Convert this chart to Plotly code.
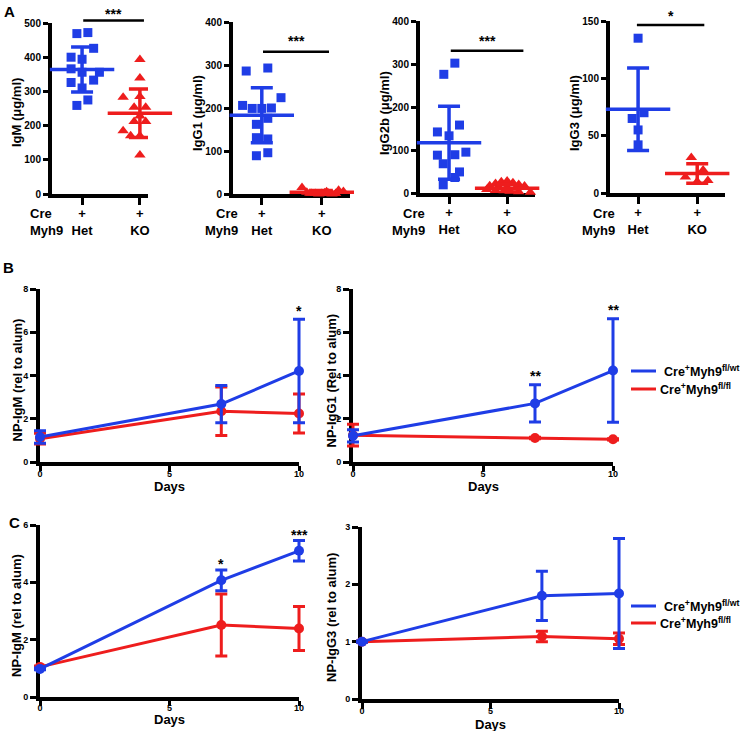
import plotly.graph_objects as go

W, H = 742, 731
BLUE = "#1f3de6"
RED = "#ee1d1d"
FONT = "Liberation Sans, Arial, Helvetica, sans-serif"

# ---------------- Panel A data (µg/ml) ----------------
groups = ["Het", "KO"]
cre_row = ["+", "+"]

igm_het = [469, 472, 426, 400, 394, 366, 356, 356, 326, 333, 310, 259, 275]
igm_het_dx = [-0.09, 0.1, 0.2, -0.19, 0, -0.19, 0, 0.3, -0.19, 0.2, 0, -0.09, 0.1]
igm_ko = [393, 339, 283, 285, 270, 254, 254, 228, 185, 212, 212, 185, 170, 170, 114]
igm_ko_dx = [0, 0, -0.29, 0, 0.29, -0.1, 0.1, 0, -0.29, -0.1, 0.1, 0.32, -0.16, 0, 0]
igm_mean = [364, 236]
igm_sd = [66, 71]

igg1_het = [286, 293, 224, 206, 199, 199, 200, 176, 162, 131, 128, 89, 96]
igg1_het_dx = [-0.26, 0.1, 0.32, -0.32, -0.16, 0, 0.16, 0.1, -0.09, -0.09, 0.1, -0.09, 0.1]
igg1_ko = [15, 4, 2, 1, 0, 1, 3, 2, 0, 1, 2, 5, 9, 6]
igg1_ko_dx = [-0.33, -0.25, -0.18, -0.11, -0.05, 0.0, 0.05, 0.11, 0.17, 0.23, -0.2, 0.08, 0.28, 0.36]
igg1_mean = [183, 4]
igg1_sd = [64, 4]

igg2b_het = [276, 302, 142, 158, 133, 88, 89, 95, 68, 49, 36, 19]
igg2b_het_dx = [-0.09, 0.1, -0.2, 0.18, 0, -0.2, 0.1, 0.29, -0.1, 0.18, 0.1, -0.1]
igg2b_ko = [22, 26, 28, 24, 20, 17, 15, 13, 11, 16, 8, 6, 5, 4, 3, 2]
igg2b_ko_dx = [-0.2, -0.1, 0, 0.1, 0.2, -0.3, -0.15, 0, 0.15, 0.3, -0.35, -0.2, -0.05, 0.05, 0.2, 0.4]
igg2b_mean = [117, 11]
igg2b_sd = [85, 9]

igg3_het = [135, 65, 70, 55, 42]
igg3_het_dx = [0, -0.1, 0.1, 0, 0]
igg3_ko = [31, 20, 14, 11, 10]
igg3_ko_dx = [-0.1, 0.1, -0.2, 0.18, 0]
igg3_mean = [73, 17]
igg3_sd = [36, 8.5]

sig_a_text = ["***", "***", "***", "*"]
sig_a_line_y = [507, 331, 331, 146.5]
sig_a_line_x = [(1.02, 2.07), (1.02, 2.12), (1.03, 2.28), (0.98, 2.12)]
sig_a_text_y = [530, 358, 356, 155]

# ---------------- Panels B / C data (rel. to alum) ----------------
days = [0, 7, 10]
b_igm_wt = [1.16, 2.68, 4.21]
b_igm_wt_err = [0.29, 0.86, 2.39]
b_igm_ko = [1.08, 2.35, 2.24]
b_igm_ko_err = [0.25, 1.12, 0.9]
b_igg1_wt = [1.21, 2.71, 4.23]
b_igg1_wt_err = [0.28, 0.86, 2.39]
b_igg1_ko = [1.24, 1.11, 1.05]
b_igg1_ko_err = [0.5, 0.03, 0.03]
c_igm_wt = [0.98, 4.07, 5.10]
c_igm_wt_err = [0.03, 0.36, 0.36]
c_igm_ko = [1.05, 2.51, 2.39]
c_igm_ko_err = [0.03, 1.08, 0.77]
c_igg3_wt = [1.0, 1.8, 1.84]
c_igg3_wt_err = [0.01, 0.43, 0.96]
c_igg3_ko = [1.0, 1.09, 1.05]
c_igg3_ko_err = [0.01, 0.09, 0.1]

legend_names = ["Cre<sup>+</sup>Myh9<sup>fl/wt</sup>", "Cre<sup>+</sup>Myh9<sup>fl/fl</sup>"]

fig = go.Figure()


def fx(p):
    return p / W


def fy(p):
    return 1 - p / H


annotations = []
shapes = []
layout_axes = {}

BOLD = dict(family=FONT, color="black", weight="bold")


def axis_style(**kw):
    d = dict(showline=True, linewidth=4, linecolor="black", ticks="outside",
             tickwidth=3, tickcolor="black", showgrid=False, zeroline=False,
             layer="below traces", fixedrange=True, automargin=False)
    d.update(kw)
    return d


def text_ann(text, x, y, size=13, angle=0, xanchor="center", yanchor="middle", **kw):
    d = dict(text=text, xref="paper", yref="paper", x=x, y=y, textangle=angle,
             xanchor=xanchor, yanchor=yanchor, showarrow=False, font=dict(size=size, **BOLD))
    d.update(kw)
    return d


# ---------------- Panel A ----------------
panelsA = [
    dict(het=igm_het, hdx=igm_het_dx, ko=igm_ko, kdx=igm_ko_dx, mean=igm_mean, sd=igm_sd,
         ymax=500, dtick=100, xpx=(52, 148), ypx=(23, 194), xr=(0.48, 2.14),
         title="IgM (μg/ml)", crex=28, crealign="left"),
    dict(het=igg1_het, hdx=igg1_het_dx, ko=igg1_ko, kdx=igg1_ko_dx, mean=igg1_mean, sd=igg1_sd,
         ymax=400, dtick=100, xpx=(233, 350), ypx=(22, 194), xr=(0.52, 2.47),
         title="IgG1 (μg/ml)", crex=240, crealign="right"),
    dict(het=igg2b_het, hdx=igg2b_het_dx, ko=igg2b_ko, kdx=igg2b_ko_dx, mean=igg2b_mean, sd=igg2b_sd,
         ymax=400, dtick=100, xpx=(420, 535), ypx=(21, 193), xr=(0.5, 2.48),
         title="IgG2b (μg/ml)", crex=427, crealign="right"),
    dict(het=igg3_het, hdx=igg3_het_dx, ko=igg3_ko, kdx=igg3_ko_dx, mean=igg3_mean, sd=igg3_sd,
         ymax=150, dtick=50, xpx=(610, 725), ypx=(21, 193), xr=(0.525, 2.47),
         title="IgG3 (μg/ml)", crex=617, crealign="right"),
]

for i, p in enumerate(panelsA):
    n = i + 1
    xa = "x" if n == 1 else f"x{n}"
    ya = "y" if n == 1 else f"y{n}"
    fig.add_trace(go.Scatter(
        x=[1 + d for d in p["hdx"]], y=p["het"], mode="markers", xaxis=xa, yaxis=ya,
        marker=dict(symbol="square", size=9, color=BLUE, line=dict(width=0)),
        cliponaxis=False, showlegend=False))
    fig.add_trace(go.Scatter(
        x=[2 + d for d in p["kdx"]], y=p["ko"], mode="markers", xaxis=xa, yaxis=ya,
        marker=dict(symbol="triangle-up", size=10, color=RED, line=dict(width=0)),
        cliponaxis=False, showlegend=False))
    for gi, col in enumerate([BLUE, RED]):
        fig.add_trace(go.Scatter(
            x=[gi + 1], y=[p["mean"][gi]], mode="markers", xaxis=xa, yaxis=ya,
            marker=dict(symbol="line-ew", size=46, color=col, line=dict(color=col, width=3.5)),
            error_y=dict(type="data", array=[p["sd"][gi]], color=col, thickness=3.5, width=11),
            cliponaxis=False, showlegend=False))
    layout_axes["xaxis" + ("" if n == 1 else str(n))] = axis_style(
        domain=[fx(p["xpx"][0]), fx(p["xpx"][1])], range=list(p["xr"]), anchor=ya,
        tickvals=[1, 2], ticktext=[f"{c}<br>{g}" for c, g in zip(cre_row, groups)],
        ticklen=7, ticklabelstandoff=-3, tickfont=dict(size=13, **BOLD))
    layout_axes["yaxis" + ("" if n == 1 else str(n))] = axis_style(
        domain=[fy(p["ypx"][1]), fy(p["ypx"][0])], range=[0, p["ymax"]], anchor=xa,
        tickvals=list(range(0, p["ymax"] + 1, p["dtick"])), ticklen=5,
        tickfont=dict(size=10, **BOLD))
    annotations.append(text_ann(p["title"], fx(p["xpx"][0] - 36), fy(113), angle=-90))
    for lab, ypix in (("Cre", 213), ("Myh9", 230)):
        annotations.append(text_ann(lab, fx(p["crex"]), fy(ypix), xanchor=p["crealign"]))
    x0, x1 = sig_a_line_x[i]
    shapes.append(dict(type="line", xref=xa, yref=f"{ya} domain", x0=x0, x1=x1,
                       y0=sig_a_line_y[i] / p["ymax"], y1=sig_a_line_y[i] / p["ymax"],
                       line=dict(color="black", width=2.5)))
    annotations.append(dict(text=sig_a_text[i], xref=xa, yref=f"{ya} domain",
                            x=(x0 + x1) / 2, y=sig_a_text_y[i] / p["ymax"], showarrow=False,
                            xanchor="center", yanchor="middle", yshift=-1,
                            font=dict(size=14, **BOLD)))

# ---------------- Panels B / C ----------------
panelsBC = [
    dict(wt=b_igm_wt, wte=b_igm_wt_err, ko=b_igm_ko, koe=b_igm_ko_err, ymax=8, dtick=2,
         xpx=(40, 299), ypx=(289, 462), title="NP-IgM (rel to alum)", tdx=23, days_y=487,
         xtl=5, xts=-5, stars=[(10, 7.0, "*")]),
    dict(wt=b_igg1_wt, wte=b_igg1_wt_err, ko=b_igg1_ko, koe=b_igg1_ko_err, ymax=8, dtick=2,
         xpx=(353, 613), ypx=(289, 462), title="NP-IgG1 (Rel to alum)", tdx=22, days_y=487,
         xtl=5, xts=-5, stars=[(7, 4.0, "**"), (10, 7.05, "**")]),
    dict(wt=c_igm_wt, wte=c_igm_wt_err, ko=c_igm_ko, koe=c_igm_ko_err, ymax=6, dtick=2,
         xpx=(40, 299), ypx=(525, 697), title="NP-IgM (rel to alum)", tdx=24, days_y=719,
         xtl=5, xts=-6, stars=[(7, 4.65, "*"), (10, 5.65, "***")]),
    dict(wt=c_igg3_wt, wte=c_igg3_wt_err, ko=c_igg3_ko, koe=c_igg3_ko_err, ymax=3, dtick=1,
         xpx=(362, 619), ypx=(527, 699), title="NP-IgG3 (rel to alum)", tdx=31, days_y=724,
         xtl=6, xts=-6, stars=[]),
]

PAD = 16  # px of extra room on the hidden data axes so error bars are not clipped
XMAX = 10

for j, p in enumerate(panelsBC):
    n = j + 5          # visible frame axes
    m = j + 9          # hidden data axes, drawn on top
    xa, ya = f"x{n}", f"y{n}"
    xd, yd = f"x{m}", f"y{m}"
    x0p, x1p = p["xpx"]
    y0p, y1p = p["ypx"]
    ppx = (x1p - x0p) / XMAX
    ppy = (y1p - y0p) / p["ymax"]
    # empty trace so the frame subplot is always registered and drawn
    fig.add_trace(go.Scatter(x=[], y=[], mode="markers", xaxis=xa, yaxis=ya,
                             showlegend=False, hoverinfo="skip"))
    for vals, errs, col in ((p["ko"], p["koe"], RED), (p["wt"], p["wte"], BLUE)):
        fig.add_trace(go.Scatter(
            x=days, y=vals, mode="lines+markers", xaxis=xd, yaxis=yd,
            line=dict(color=col, width=3), marker=dict(symbol="circle", size=10, color=col),
            error_y=dict(type="data", array=errs, color=col, thickness=3, width=6),
            cliponaxis=False, showlegend=False))
    layout_axes[f"xaxis{n}"] = axis_style(
        domain=[fx(x0p), fx(x1p)], range=[0, XMAX], anchor=ya,
        tickvals=[0, 5, 10], ticklen=p["xtl"], ticklabelstandoff=p["xts"],
        tickfont=dict(size=9, **BOLD))
    layout_axes[f"yaxis{n}"] = axis_style(
        domain=[fy(y1p), fy(y0p)], range=[0, p["ymax"]], anchor=xa,
        tickvals=list(range(0, p["ymax"] + 1, p["dtick"])), ticklen=6,
        tickfont=dict(size=9, **BOLD))
    layout_axes[f"xaxis{m}"] = dict(
        domain=[fx(x0p - PAD), fx(x1p + PAD)], range=[-PAD / ppx, XMAX + PAD / ppx],
        anchor=yd, visible=False, fixedrange=True, automargin=False)
    layout_axes[f"yaxis{m}"] = dict(
        domain=[fy(y1p + PAD), fy(y0p - PAD)], range=[-PAD / ppy, p["ymax"] + PAD / ppy],
        anchor=xd, visible=False, fixedrange=True, automargin=False)
    annotations.append(text_ann(p["title"], fx(x0p - p["tdx"]), fy((y0p + y1p) / 2 + 5), angle=-90))
    annotations.append(text_ann("Days", fx((x0p + x1p) / 2), fy(p["days_y"])))
    for sx, sy, st in p["stars"]:
        annotations.append(dict(text=st, xref=xa, yref=ya, x=sx, y=sy, showarrow=False,
                                xanchor="center", yanchor="middle", font=dict(size=14, **BOLD)))

# ---------------- Legends (B and C) ----------------
for ly in ((371, 389), (606, 623)):
    for k, col in enumerate([BLUE, RED]):
        shapes.append(dict(type="line", xref="paper", yref="paper", x0=fx(631), x1=fx(656),
                           y0=fy(ly[k]), y1=fy(ly[k]), line=dict(color=col, width=3)))
        annotations.append(text_ann(legend_names[k], fx(662 if k == 0 else 658), fy(ly[k]),
                                    size=12.5, xanchor="left"))

# ---------------- Panel letters ----------------
for lab, px, py in (("A", 9, 11), ("B", 8, 267), ("C", 15, 522)):
    annotations.append(text_ann(lab, fx(px), fy(py), size=15))

fig.update_layout(
    width=W, height=H, margin=dict(l=0, r=0, t=0, b=0, autoexpand=False),
    paper_bgcolor="white", plot_bgcolor="rgba(0,0,0,0)",
    font=dict(family=FONT, color="black", weight="bold"),
    showlegend=False, annotations=annotations, shapes=shapes, **layout_axes)

fig.write_html("out.html", config={"displayModeBar": False, "staticPlot": True},
               post_script="document.body.style.margin='0px';")
